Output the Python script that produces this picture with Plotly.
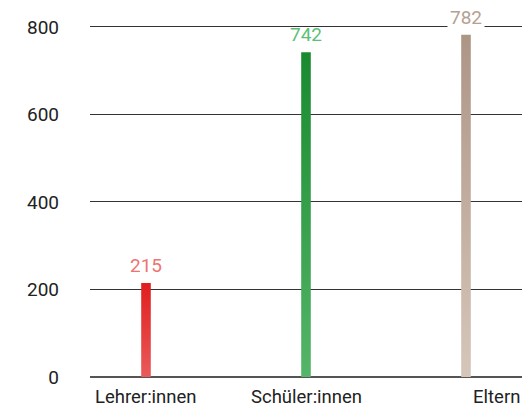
import plotly.graph_objects as go

# Survey respondents by group
categories = ["Lehrer:innen", "Schüler:innen", "Eltern"]
counts = [215, 742, 782]
y_ticks = [0, 200, 400, 600, 800]

# Per-bar gradient (bottom -> top) and value label colours
bar_bottom = ["#ea5a5a", "#55b56a", "#d6c6ba"]
bar_top = ["#e01e1e", "#188a2e", "#ad9586"]
label_colors = ["#f07272", "#5cbf78", "#b5a092"]
# only the label that sits on a grid line gets a white patch
label_bg = ["rgba(0,0,0,0)", "rgba(0,0,0,0)", "white"]

FONT = "Roboto"
half_w = 0.03

fig = go.Figure()
for i, (cat, v) in enumerate(zip(categories, counts)):
    fig.add_trace(go.Scatter(
        x=[i - half_w, i + half_w, i + half_w, i - half_w, i - half_w],
        y=[0, 0, v, v, 0],
        mode="lines",
        line=dict(width=0),
        fill="toself",
        fillgradient=dict(type="vertical",
                          colorscale=[[0, bar_bottom[i]], [1, bar_top[i]]]),
        name=cat,
        hoverinfo="skip",
        showlegend=False,
    ))
    # value label above the bar
    fig.add_annotation(
        x=i, y=v, xref="x", yref="y",
        text=str(v), showarrow=False,
        yanchor="bottom", yshift=3,
        font=dict(family=FONT, size=19, color=label_colors[i]),
        bgcolor=label_bg[i], borderpad=2,
    )

# category labels under the axis; the last one is kept inside the frame
for i, cat in enumerate(categories):
    last = i == len(categories) - 1
    fig.add_annotation(
        x=1 if last else i, xref="paper" if last else "x",
        y=0, yref="paper",
        xanchor="right" if last else "center", yanchor="top",
        yshift=-7,
        text=cat, showarrow=False,
        font=dict(family=FONT, size=18.5, color="#222222"),
    )

fig.update_layout(
    width=522, height=410,
    margin=dict(l=90, r=0, t=22, b=33),
    paper_bgcolor="white", plot_bgcolor="white",
    font=dict(family=FONT, color="#222222"),
    showlegend=False,
    xaxis=dict(range=[-0.35, 2.35], showgrid=False, zeroline=False,
               showticklabels=False, fixedrange=True),
    yaxis=dict(range=[0, 811.4], tickvals=y_ticks, ticks="",
               showgrid=True, gridcolor="#333333", gridwidth=1,
               zeroline=True, zerolinecolor="#555555", zerolinewidth=2,
               tickfont=dict(family=FONT, size=19, color="#222222"),
               ticklabelstandoff=30, fixedrange=True),
)

fig.write_html("out.html")
